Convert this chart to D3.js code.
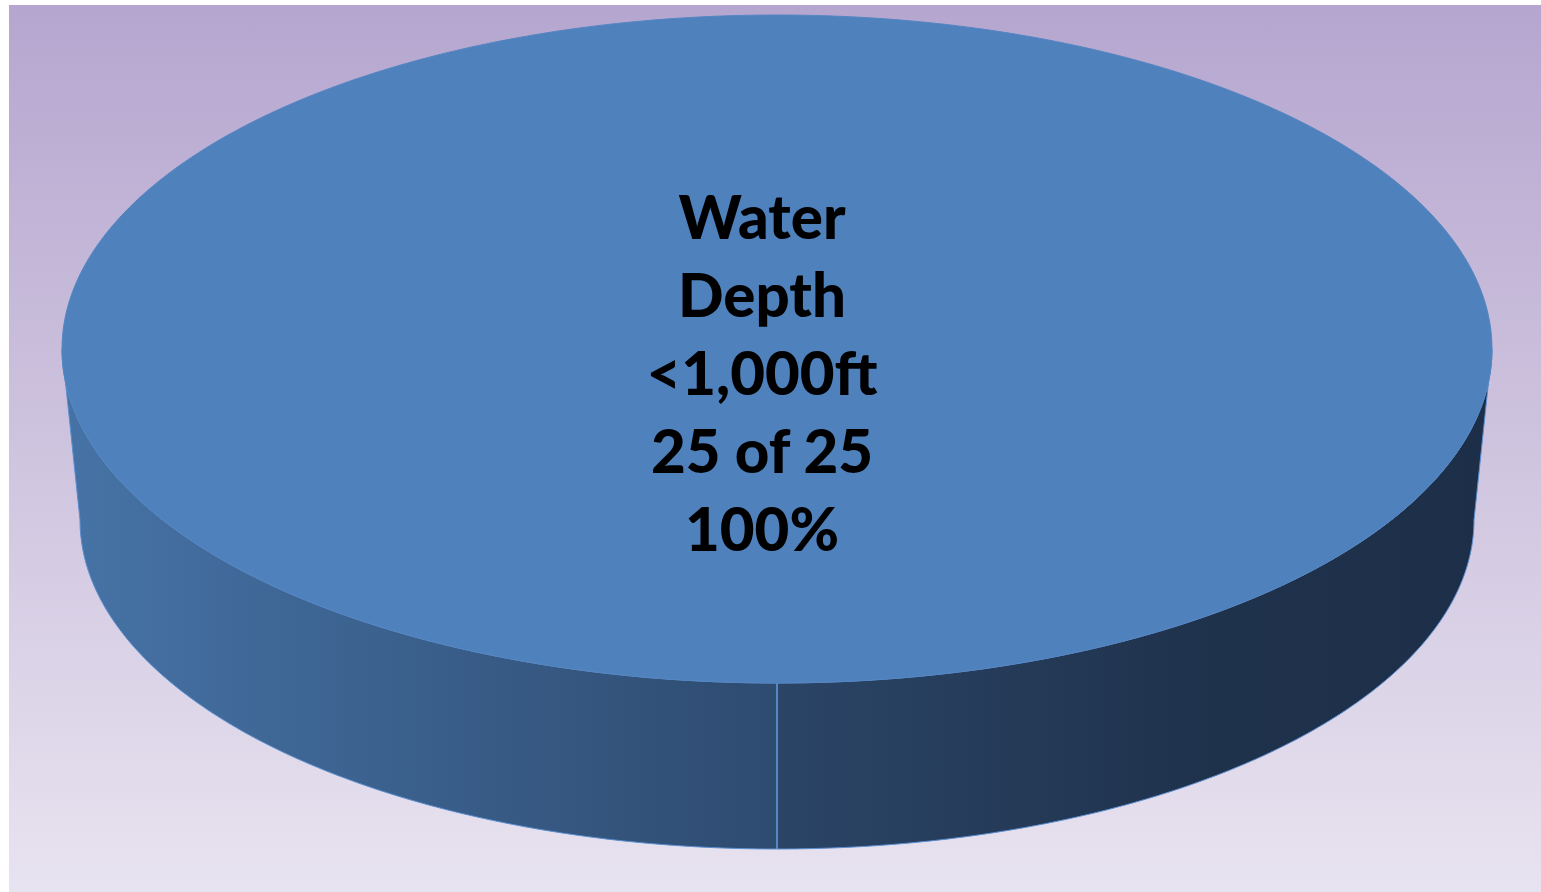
<!DOCTYPE html>
<html>
<head>
<meta charset="utf-8">
<script src="https://cdn.jsdelivr.net/npm/d3@7"></script>
<style>
  html, body { margin: 0; padding: 0; background: #ffffff; }
  svg { display: block; }
</style>
</head>
<body>
<svg id="chart" width="1541" height="892"></svg>
<script>
// ---- data ----
const categories = ["Water Depth <1,000ft"];
const values = [25];
const total = 25;
const labelLines = ["Water", "Depth", "<1,000ft", "25 of 25", "100%"];

// ---- layout ----
const W = 1541, H = 892;
const svg = d3.select("#chart");
const defs = svg.append("defs");

const bg = defs.append("linearGradient").attr("id", "bg").attr("x1", 0).attr("y1", 0).attr("x2", 0).attr("y2", 1);
bg.append("stop").attr("offset", "0%").attr("stop-color", "#b5a6cf");
bg.append("stop").attr("offset", "45%").attr("stop-color", "#ccc1dd");
bg.append("stop").attr("offset", "100%").attr("stop-color", "#e8e3f0");
svg.append("rect").attr("x", 9).attr("y", 5).attr("width", W - 9).attr("height", H - 5).attr("fill", "url(#bg)");

const gl = defs.append("linearGradient").attr("id", "sideL").attr("gradientUnits", "userSpaceOnUse")
  .attr("x1", 64).attr("y1", 0).attr("x2", 777).attr("y2", 0);
gl.append("stop").attr("offset", "0%").attr("stop-color", "#4673a6");
gl.append("stop").attr("offset", "100%").attr("stop-color", "#2e4b70");
const gr = defs.append("linearGradient").attr("id", "sideR").attr("gradientUnits", "userSpaceOnUse")
  .attr("x1", 777).attr("y1", 0).attr("x2", 1492).attr("y2", 0);
gr.append("stop").attr("offset", "0%").attr("stop-color", "#2b4567");
gr.append("stop").attr("offset", "60%").attr("stop-color", "#1f324c");
gr.append("stop").attr("offset", "100%").attr("stop-color", "#1d2f48");

// ellipses (top face & bottom rim, perspective)
const topE = { cx: 777, cy: 349, rx: 715, ry: 334 };
const botE = { cx: 777, cy: 520, rx: 697, ry: 329 };

function pt(e, a) { return [e.cx + e.rx * Math.sin(a), e.cy - e.ry * Math.cos(a)]; }
function arcPts(e, a0, a1, n) {
  const out = [];
  for (let i = 0; i <= n; i++) out.push(pt(e, a0 + (a1 - a0) * i / n));
  return out;
}

const pie = d3.pie().sort(null).value(d => d).startAngle(Math.PI).endAngle(3 * Math.PI);
const arcs = pie(values);
const line = d3.line();

// sides: visible front half split at slice boundaries
const gSide = svg.append("g");
arcs.forEach((d, i) => {
  const segs = [[Math.PI / 2, Math.PI, "url(#sideR)"], [Math.PI, 3 * Math.PI / 2, "url(#sideL)"]];
  segs.forEach(([s0, s1, fill]) => {
    const ptsTop = arcPts(topE, s0, s1, 120);
    const ptsBot = arcPts(botE, s1, s0, 120);
    gSide.append("path")
      .attr("d", line(ptsTop.concat(ptsBot)) + "Z")
      .attr("fill", fill)
      .attr("stroke", "#5b8ed0").attr("stroke-width", 1).attr("stroke-linejoin", "round");
  });
  const s = d.startAngle % (2 * Math.PI);
  gSide.append("line")
    .attr("x1", pt(topE, s)[0]).attr("y1", pt(topE, s)[1])
    .attr("x2", pt(botE, s)[0]).attr("y2", pt(botE, s)[1])
    .attr("stroke", "#5b8ed0").attr("stroke-width", 1.5);
});

// top faces
const gTop = svg.append("g");
arcs.forEach((d, i) => {
  const pts = arcPts(topE, d.startAngle, d.endAngle, 360);
  gTop.append("path")
    .attr("d", line(pts) + "Z")
    .attr("fill", "#4f81bd")
    .attr("stroke", "#5586c2").attr("stroke-width", 1);
});

// label
const lab = svg.append("text")
  .attr("x", 762).attr("y", 238)
  .attr("text-anchor", "middle")
  .attr("font-family", "Lato, 'Open Sans', sans-serif")
  .attr("font-weight", 900)
  .attr("font-size", 60)
  .attr("fill", "#000");
labelLines.forEach((t, i) => {
  lab.append("tspan").attr("x", 762).attr("y", 239 + i * 78).text(t);
});
</script>
</body>
</html>
